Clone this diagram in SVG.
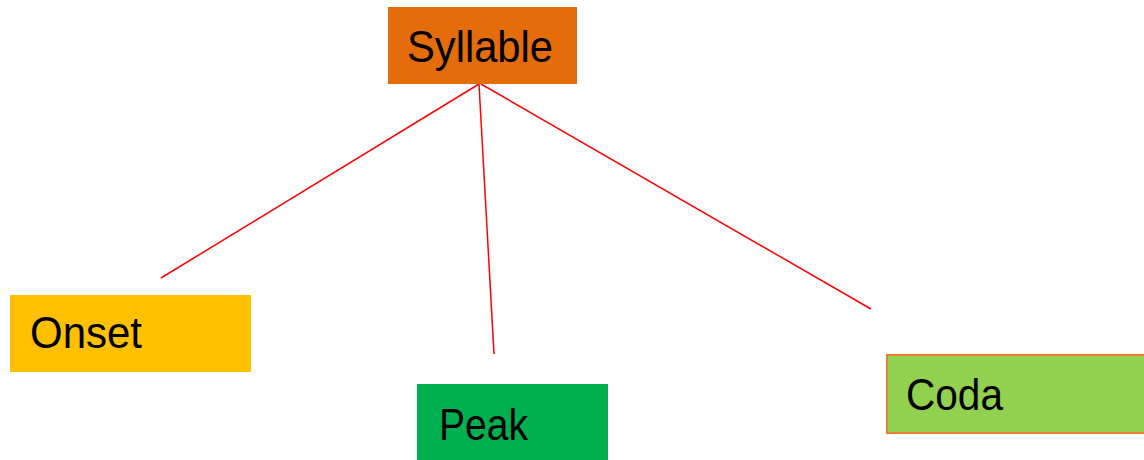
<svg xmlns="http://www.w3.org/2000/svg" width="1144" height="460" viewBox="0 0 1144 460">
<style>
.t{font-family:"Liberation Sans",Arial,sans-serif;font-size:45px;fill:#000}
.c line{stroke:#ff0000;stroke-width:1.5}
</style>
<rect width="1144" height="460" fill="#fff"/>
<g class="c" id="connectors">
<line x1="479" y1="84" x2="161" y2="278"/>
<line x1="479" y1="84" x2="494" y2="354"/>
<line x1="481" y1="84" x2="871" y2="309"/>
</g>
<g id="syllable"><rect x="388" y="7" width="189" height="77" fill="#e46c0a"/><text class="t" x="407" y="62" textLength="146" lengthAdjust="spacingAndGlyphs">Syllable</text></g>
<g id="onset"><rect x="10" y="295" width="241" height="77" fill="#ffc000"/><text class="t" x="30" y="348" textLength="112" lengthAdjust="spacingAndGlyphs">Onset</text></g>
<g id="peak"><rect x="417" y="384" width="191" height="80" fill="#00b050"/><text class="t" x="439" y="440" textLength="89" lengthAdjust="spacingAndGlyphs">Peak</text></g>
<g id="coda"><rect x="887" y="355" width="260" height="78" fill="#92d050" stroke="#ed7d31" stroke-width="2"/><text class="t" x="906" y="410" textLength="97" lengthAdjust="spacingAndGlyphs">Coda</text></g>
</svg>
